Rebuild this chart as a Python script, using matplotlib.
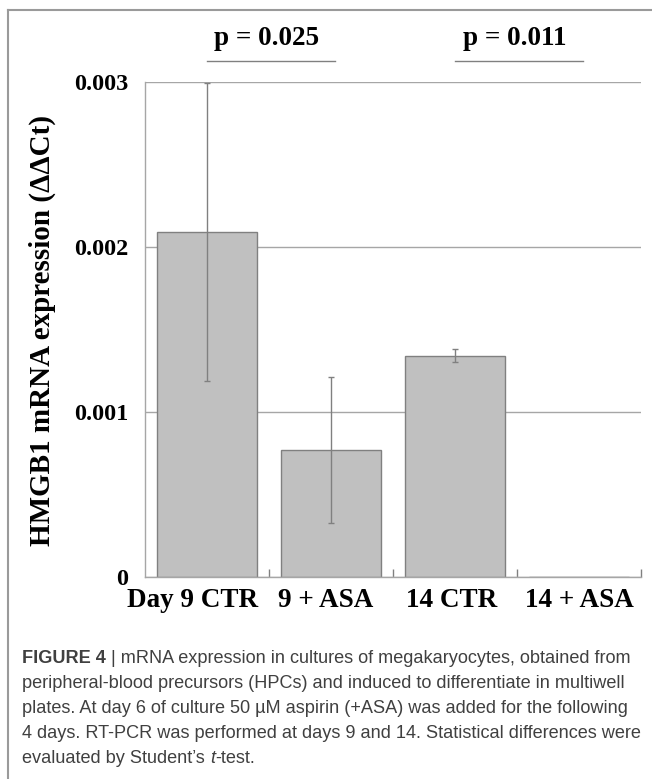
#!/usr/bin/env python3
import matplotlib
matplotlib.use("Agg")
import matplotlib.pyplot as plt
import matplotlib.transforms as mtransforms
from matplotlib.lines import Line2D
import numpy as np

categories = ["Day 9 CTR", "9 + ASA", "14 CTR", "14 + ASA"]
means = [0.00209, 0.00077, 0.00134, 0.0]
errors = [0.0009, 0.00044, 0.00004, 0.0]
yticks = [0, 0.001, 0.002, 0.003]
ytick_labels = ["0", "0.001", "0.002", "0.003"]
p_labels = ["p = 0.025", "p = 0.011"]
p_pairs = [(0, 1), (2, 3)]
ylabel = "HMGB1 mRNA expression (\u0394\u0394Ct)"

caption_head = "FIGURE 4"
caption_first = " | mRNA expression in cultures of megakaryocytes, obtained from"
caption_mid = [
    "peripheral-blood precursors (HPCs) and induced to differentiate in multiwell",
    "plates. At day 6 of culture 50 \u00b5M aspirin (+ASA) was added for the following",
    "4 days. RT-PCR was performed at days 9 and 14. Statistical differences were",
]
caption_last = ["evaluated by Student\u2019s ", "t", "-test."]

W, H = 652, 779
SERIF = "Liberation Serif"
SANS = "Liberation Sans"
GRID = "#a6a6a6"
EDGE = "#808080"


def px(x, y):
    # pixel position (from top left) -> figure fraction
    return x / W, 1 - y / H


def main():
    fig = plt.figure(figsize=(W / 100, H / 100), dpi=100)
    l, b = px(145, 577)
    r, t = px(641, 81.7)
    ax = fig.add_axes([l, b, r - l, t - b])

    x = np.arange(len(categories))
    ax.bar(x, means, width=0.8, color="#c0c0c0", edgecolor=EDGE, linewidth=1, zorder=2)
    keep = [i for i, m in enumerate(means) if m > 0]
    ax.errorbar([x[i] for i in keep], [means[i] for i in keep],
                yerr=[errors[i] for i in keep], fmt="none", ecolor=EDGE,
                elinewidth=1, capsize=2.5, capthick=1, zorder=3)

    ax.set_xlim(-0.5, len(categories) - 0.5)
    ax.set_ylim(0, 0.003)
    ax.set_yticks(yticks)
    ax.set_yticklabels(ytick_labels, fontfamily=SERIF, fontweight="bold", fontsize=17.5)
    ax.tick_params(axis="y", length=0, pad=12)
    ax.yaxis.grid(True, color=GRID, linewidth=1, zorder=0)
    ax.set_axisbelow(True)

    ax.set_xticks(x)
    ax.set_xticklabels(categories, fontfamily=SERIF, fontweight="bold", fontsize=19.5)
    ax.tick_params(axis="x", which="major", length=0, pad=8)
    ax.set_xticks(np.arange(len(categories)) + 0.5, minor=True)
    ax.tick_params(axis="x", which="minor", direction="in", length=6, color=EDGE, width=1)
    # the labels sit a little left of the bar centres in the original
    shifts = [-14, -5, -3, 0]
    for lab, dx in zip(ax.get_xticklabels(), shifts):
        lab.set_transform(lab.get_transform() +
                          mtransforms.ScaledTranslation(dx / 100, 0, fig.dpi_scale_trans))

    for side in ["top", "right"]:
        ax.spines[side].set_visible(False)
    for side in ["left", "bottom"]:
        ax.spines[side].set_color(GRID)
        ax.spines[side].set_linewidth(1)

    for label, (a, c) in zip(p_labels, p_pairs):
        ax.plot([a, c + 0.03], [0.003123, 0.003123], color=EDGE, linewidth=1, clip_on=False)
        ax.text((a + c) / 2 - 0.02, 0.00326, label, ha="center", va="center",
                fontfamily=SERIF, fontweight="bold", fontsize=19.5, clip_on=False)

    fx, fy = px(42, 331)
    fig.text(fx, fy, ylabel, rotation=90, ha="center", va="center",
             fontfamily=SERIF, fontweight="bold", fontsize=21)

    # panel frame
    x0, y0 = px(8, 10)
    fig.add_artist(Line2D([x0, 1], [y0, y0], color="#9a9a9a", linewidth=1.5,
                          transform=fig.transFigure))
    fig.add_artist(Line2D([x0, x0], [y0, 0], color="#9a9a9a", linewidth=1.5,
                          transform=fig.transFigure))

    # caption
    cap = dict(fontfamily=SANS, fontsize=13.05, color="#404040")
    cx, cy = px(22, 663)
    head = fig.text(cx, cy, caption_head, fontweight="bold", va="baseline", **cap)
    ax.annotate(caption_first, xy=(1, 0), xycoords=head, va="bottom", ha="left",
                annotation_clip=False, **cap)
    for i, line in enumerate(caption_mid):
        lx, ly = px(22, 663 + 25 * (i + 1))
        fig.text(lx, ly, line, va="baseline", **cap)
    lx, ly = px(22, 663 + 25 * 4)
    prev = fig.text(lx, ly, caption_last[0], va="baseline", **cap)
    prev = ax.annotate(caption_last[1], xy=(1, 0), xycoords=prev, va="bottom",
                       ha="left", style="italic", annotation_clip=False, **cap)
    ax.annotate(caption_last[2], xy=(1, 0), xycoords=prev, va="bottom", ha="left",
                annotation_clip=False, **cap)

    fig.savefig("out.png", dpi=100)
    plt.close(fig)


if __name__ == "__main__":
    main()
